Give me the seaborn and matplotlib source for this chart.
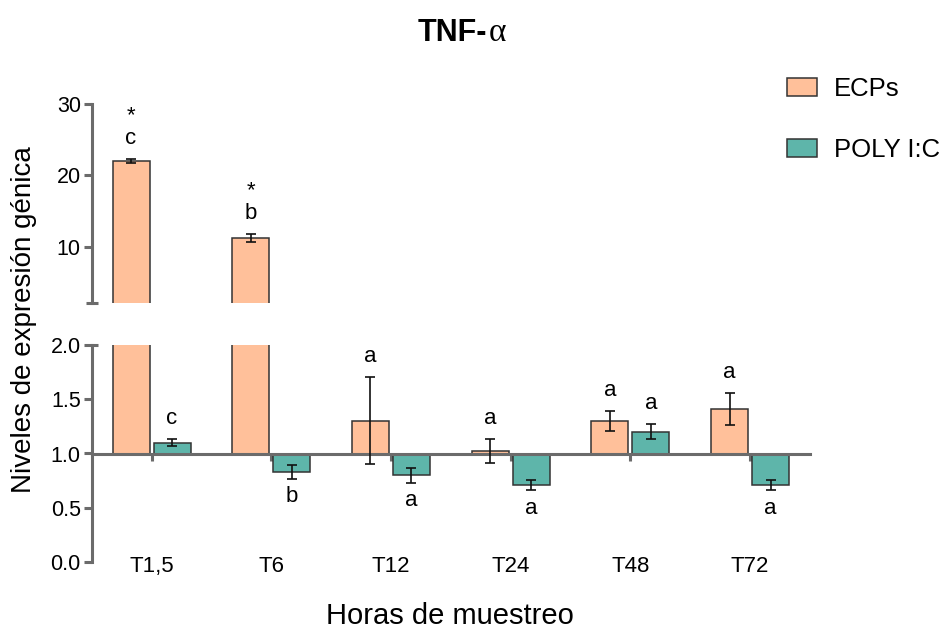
import matplotlib
matplotlib.use("Agg")
import matplotlib.pyplot as plt
from matplotlib.patches import Patch
import numpy as np
import pandas as pd
import seaborn as sns

# --- data -------------------------------------------------------------
times = ["T1,5", "T6", "T12", "T24", "T48", "T72"]
treatments = ["ECPs", "POLY I:C"]
ecps_mean = [22.0, 11.2, 1.30, 1.02, 1.30, 1.41]
ecps_sem = [0.30, 0.50, 0.40, 0.11, 0.09, 0.15]
poly_mean = [1.10, 0.83, 0.80, 0.71, 1.20, 0.71]
poly_sem = [0.035, 0.06, 0.07, 0.05, 0.07, 0.05]
ecps_letters = ["c", "b", "a", "a", "a", "a"]
poly_letters = ["c", "b", "a", "a", "a", "a"]
ecps_stars = ["*", "*", "", "", "", ""]
poly_stars = ["", "", "", "", "", ""]
baseline = 1.0

lower_ticks = [0.0, 0.5, 1.0, 1.5, 2.0]
upper_ticks = [10, 20, 30]

# --- style ------------------------------------------------------------
sns.set_style("ticks")
plt.rcParams["font.family"] = ["Liberation Sans", "DejaVu Sans"]
plt.rcParams["text.color"] = "black"
plt.rcParams["axes.labelcolor"] = "black"

colors = {"ECPs": "#FFC09A", "POLY I:C": "#5EB5AA"}
axis_gray = "#6b6b6b"
edge = "#333333"
err_color = "#111111"

df = pd.DataFrame({
    "time": times * 2,
    "treatment": ["ECPs"] * len(times) + ["POLY I:C"] * len(times),
    "mean": ecps_mean + poly_mean,
    "sem": ecps_sem + poly_sem,
    "letter": ecps_letters + poly_letters,
    "star": ecps_stars + poly_stars,
})
df["delta"] = df["mean"] - baseline

W, H = 946, 630
fig = plt.figure(figsize=(W / 100, H / 100), dpi=100)

left, right = 91.7 / W, 810 / W
ax_up = fig.add_axes([left, 1 - 302.7 / H, right - left, (302.7 - 104.3) / H])
ax_lo = fig.add_axes([left, 1 - 562.3 / H, right - left, (562.3 - 344.7) / H])


def draw_bars(ax):
    sns.barplot(data=df, x="time", y="delta", hue="treatment", order=times,
                hue_order=treatments, palette=colors, saturation=1,
                width=0.685, gap=0.1, bottom=baseline, edgecolor=edge,
                linewidth=1.1, errorbar=None, legend=False, dodge=True, ax=ax)
    # bar centres, in the same order as the table rows
    centres = [p.get_x() + p.get_width() / 2 for p in ax.patches]
    df_c = df.copy()
    df_c["x"] = centres[:len(df)]
    ax.errorbar(df_c["x"], df_c["mean"], yerr=df_c["sem"], fmt="none",
                ecolor=err_color, elinewidth=1.2, capsize=3.6, capthick=1.2,
                zorder=5)
    return df_c


d_up = draw_bars(ax_up)
d_lo = draw_bars(ax_lo)

ax_up.set_ylim(2.1, 30)
ax_lo.set_ylim(0, 2.0)
for ax in (ax_up, ax_lo):
    ax.set_xlim(-0.5, len(times) - 0.5)
    ax.set_xlabel("")
    ax.set_ylabel("")
    ax.spines["top"].set_visible(False)
    ax.spines["right"].set_visible(False)
    ax.spines["left"].set_color(axis_gray)
    ax.spines["left"].set_linewidth(2.2)
    ax.tick_params(axis="y", colors=axis_gray, width=2.2, length=5.8,
                   pad=2, labelsize=15.5, labelcolor="black")
    ax.set_facecolor("none")

# upper panel: no x axis
ax_up.spines["bottom"].set_visible(False)
ax_up.tick_params(axis="x", bottom=False, labelbottom=False)
ax_up.set_yticks(upper_ticks)
ax_up.set_yticklabels([str(t) for t in upper_ticks])

# lower panel: x axis crosses at the baseline
ax_lo.set_yticks(lower_ticks)
ax_lo.set_yticklabels([f"{t:.1f}" for t in lower_ticks])
ax_lo.spines["bottom"].set_position(("data", baseline))
ax_lo.spines["bottom"].set_color(axis_gray)
ax_lo.spines["bottom"].set_linewidth(2.2)
ax_lo.set_xticks(range(len(times)))
ax_lo.set_xticklabels(times)
ax_lo.tick_params(axis="x", colors=axis_gray, width=2.2, length=5,
                  direction="out", pad=69, labelsize=16, labelcolor="black")

# break caps on the y axis
cap = 6.0 / (right - left) / W
ax_up.plot([-cap, cap], [0, 0], transform=ax_up.transAxes, color=axis_gray,
           lw=2.2, clip_on=False, solid_capstyle="butt")
ax_lo.plot([0, cap], [1, 1], transform=ax_lo.transAxes, color=axis_gray,
           lw=2.2, clip_on=False, solid_capstyle="butt")

# significance letters and stars
for _, r in d_lo.iterrows():
    ax = ax_up if r["mean"] > 2.0 else ax_lo
    if r["mean"] >= baseline:
        y = r["mean"] + r["sem"]
        ax.annotate(r["letter"], (r["x"], y), xytext=(0, 10.8),
                    textcoords="offset points", ha="center", va="baseline",
                    fontsize=16)
        if r["star"]:
            ax.annotate(r["star"], (r["x"], y), xytext=(0, 27.5),
                        textcoords="offset points", ha="center",
                        va="baseline", fontsize=16)
    else:
        y = r["mean"] - r["sem"]
        ax.annotate(r["letter"], (r["x"], y), xytext=(0, -16.6),
                    textcoords="offset points", ha="center", va="baseline",
                    fontsize=16)

# titles and axis labels
fig.text(487 / W, 1 - 41 / H, "TNF-", ha="right", va="baseline",
         fontsize=22, fontweight="bold")
fig.text(489 / W, 1 - 41 / H, "α", ha="left", va="baseline",
         fontsize=24, family=["Liberation Serif", "DejaVu Serif"])
fig.text(24 / W, 1 - 319.5 / H, "Niveles de expresión génica", rotation=90,
         ha="center", va="center", fontsize=20)
fig.text(450 / W, 1 - 624 / H, "Horas de muestreo", ha="center",
         va="baseline", fontsize=21)

# legend
handles = [Patch(facecolor=colors[t], edgecolor=edge, linewidth=1.1)
           for t in treatments]
fig.legend(handles, treatments, loc="upper left",
           bbox_to_anchor=(787 / W, 1 - 77 / H), frameon=False, fontsize=18.5,
           handlelength=1.17, handleheight=0.7, handletextpad=0.66,
           labelspacing=1.45, borderpad=0, borderaxespad=0)

fig.savefig("out.png", dpi=100)
